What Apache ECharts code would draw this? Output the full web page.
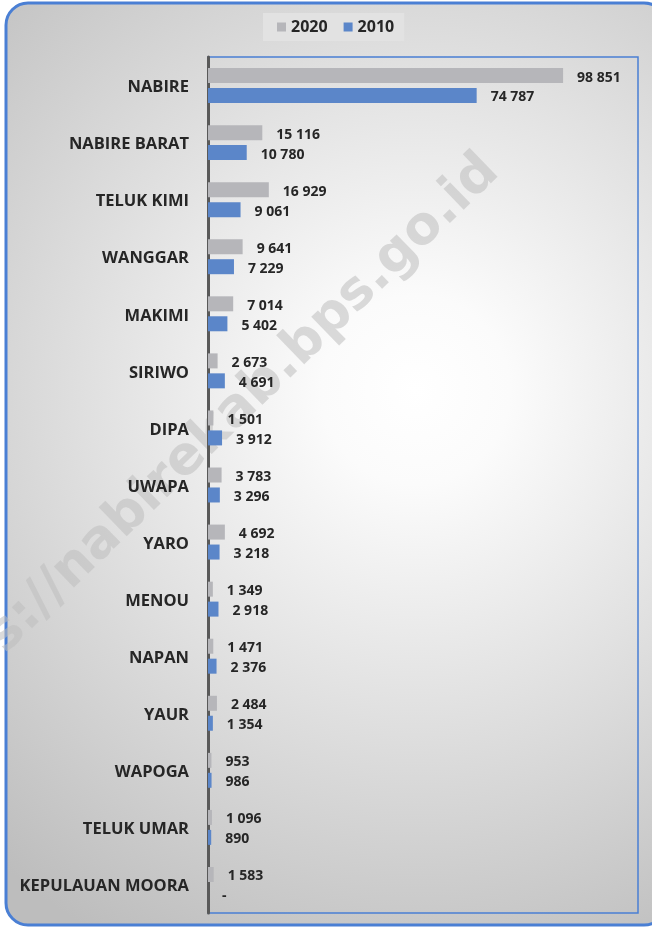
<!DOCTYPE html>
<html>
<head>
<meta charset="utf-8">
<script src="https://cdn.jsdelivr.net/npm/echarts@6/dist/echarts.min.js"></script>
<style>
    html, body {margin: 0; padding: 0; background: #fff;}
    #chart {width: 652px; height: 928px;}
</style>
</head>
<body>
<div id="chart"></div>
<script>
// distrik
const categories = ['NABIRE', 'NABIRE BARAT', 'TELUK KIMI', 'WANGGAR', 'MAKIMI', 'SIRIWO', 'DIPA', 'UWAPA',
    'YARO', 'MENOU', 'NAPAN', 'YAUR', 'WAPOGA', 'TELUK UMAR', 'KEPULAUAN MOORA'];
const years = ['2020', '2010'];
const values2020 = [98851, 15116, 16929, 9641, 7014, 2673, 1501, 3783, 4692, 1349, 1471, 2484, 953, 1096, 1583];
// kepulauan moora belum ada di 2010 -> ditampilkan "-"
const values2010 = [74787, 10780, 9061, 7229, 5402, 4691, 3912, 3296, 3218, 2918, 2376, 1354, 986, 890, 0];

const textColor = '#262626';
const fontName = '"Open Sans", "Liberation Sans", sans-serif';

function fmt(v) {
    if (!v) return '-';
    return String(v).replace(/\B(?=(\d{3})+(?!\d))/g, ' ');
}

function barSeries(name, data, color) {
    return {
        name: name,
        type: 'bar',
        data: data,
        barWidth: 15,
        barGap: '33%',
        itemStyle: {color: color},
        label: {
            show: true,
            position: 'right',
            distance: 14,
            offset: [0, 2],
            color: textColor,
            fontSize: 14,
            fontWeight: 'bold',
            fontFamily: fontName,
            formatter: (p) => fmt(p.value)
        },
        z: 3
    };
}

let chart = echarts.init(document.getElementById('chart'));
chart.setOption({
    animation: false,
    graphic: [{
        type: 'rect',
        z: -10,
        shape: {x: 6, y: 3, width: 660, height: 922, r: 22},
        style: {
            fill: new echarts.graphic.RadialGradient(0.62, 0.42, 0.95, [
                {offset: 0, color: '#ffffff'},
                {offset: 0.15, color: '#fbfbfb'},
                {offset: 1, color: '#bdbdbd'}
            ]),
            stroke: '#4a7fd4',
            lineWidth: 3
        }
    }, {
        type: 'text',
        z: -5,
        x: 198,
        y: 448,
        rotation: 0.77,
        style: {
            text: 'https://nabirekab.bps.go.id',
            fill: 'rgba(190,190,190,0.55)',
            font: 'bold 53px "DejaVu Sans"',
            align: 'center',
            verticalAlign: 'middle'
        }
    }],
    legend: {
        data: years,
        top: 13,
        left: 263,
        backgroundColor: '#e2e2e2',
        padding: [6, 10, 6, 14],
        icon: 'rect',
        itemWidth: 9,
        itemHeight: 9,
        itemGap: 16,
        textStyle: {color: textColor, fontSize: 16, fontWeight: 'bold', fontFamily: fontName}
    },
    grid: {
        left: 208,
        right: 14,
        top: 57,
        bottom: 15,
        show: true,
        borderColor: '#4a7fd4',
        borderWidth: 1.5
    },
    xAxis: {
        type: 'value',
        min: 0,
        max: 119700,
        show: false
    },
    yAxis: {
        type: 'category',
        data: categories,
        inverse: true,
        axisLine: {lineStyle: {color: '#595959', width: 3}},
        axisTick: {show: false},
        axisLabel: {
            margin: 19,
            formatter: (v) => '{n|' + v + '}',
            rich: {
                n: {
                    padding: [4, 0, 0, 0],
                    color: textColor,
                    fontSize: 16.5,
                    fontWeight: 'bold',
                    fontFamily: fontName
                }
            }
        }
    },
    series: [
        barSeries('2020', values2020, '#b6b6ba'),
        barSeries('2010', values2010, '#5b86c9')
    ]
});
</script>
</body>
</html>
